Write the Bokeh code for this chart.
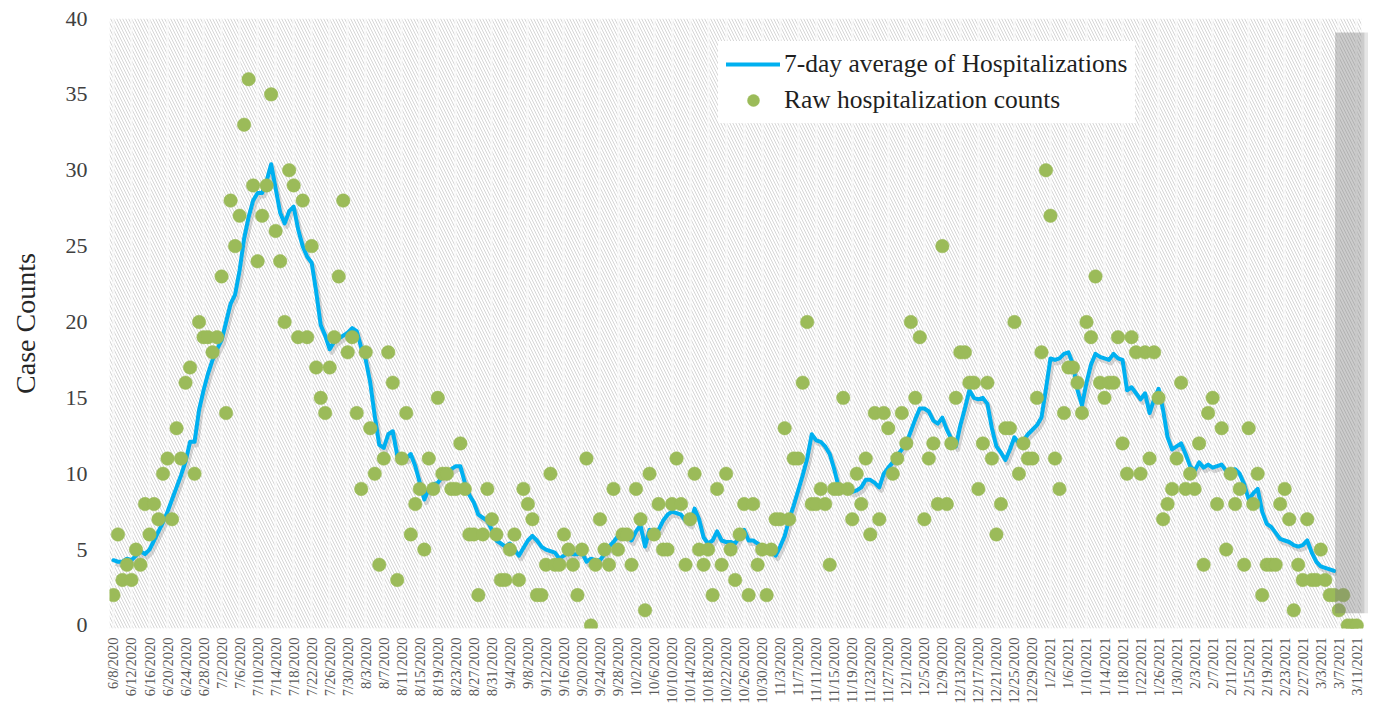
import math
import pandas as pd
from bokeh.plotting import figure
from bokeh.models import BoxAnnotation, FixedTicker, Legend, LegendItem, ColumnDataSource
from bokeh.embed import file_html
from bokeh.resources import INLINE

# ---------------- data ----------------
START_DATE = "2020-06-08"

raw_counts = [
    2, 6, 3, 4, 3, 5, 4, 8, 6, 8,
    7, 10, 11, 7, 13, 11, 16, 17, 10, 20,
    19, 19, 18, 19, 23, 14, 28, 25, 27, 33,
    36, 29, 24, 27, 29, 35, 26, 24, 20, 30,
    29, 19, 28, 19, 25, 17, 15, 14, 17, 19,
    23, 28, 18, 19, 14, 9, 18, 13, 10, 4,
    11, 18, 16, 3, 11, 14, 6, 8, 9, 5,
    11, 9, 15, 10, 10, 9, 9, 12, 9, 6,
    6, 2, 6, 9, 7, 6, 3, 3, 5, 6,
    3, 9, 8, 7, 2, 2, 4, 10, 4, 4,
    6, 5, 4, 2, 5, 11, 0, 4, 7, 5,
    4, 9, 5, 6, 6, 4, 9, 7, 1, 10,
    6, 8, 5, 5, 8, 11, 8, 4, 7, 10,
    5, 4, 5, 2, 9, 4, 10, 5, 3, 6,
    8, 2, 8, 4, 5, 2, 5, 7, 7, 13,
    7, 11, 11, 16, 20, 8, 8, 9, 8, 4,
    9, 9, 15, 9, 7, 10, 8, 11, 6, 14,
    7, 14, 13, 10, 11, 14, 12, 20, 15, 19,
    7, 11, 12, 8, 25, 8, 12, 15, 18, 18,
    16, 16, 9, 12, 16, 11, 6, 8, 13, 13,
    20, 10, 12, 11, 11, 15, 18, 30, 27, 11,
    9, 14, 17, 17, 16, 14, 20, 19, 23, 16,
    15, 16, 16, 19, 12, 10, 19, 18, 10, 18,
    11, 18, 15, 7, 8, 9, 11, 16, 9, 10,
    9, 12, 4, 14, 15, 8, 13, 5, 10, 8,
    9, 4, 13, 8, 10, 2, 4, 4, 4, 8,
    9, 7, 1, 4, 3, 7, 3, 3, 5, 3,
    2, 2, 1, 2, 0, 0, 0,
]

avg_7day = [
    4.3, 4.2, 4.2, 4.4, 4.3, 4.6, 4.9, 4.7, 5.0, 5.6,
    6.2, 6.8, 7.5, 8.3, 9.1, 9.9, 10.8, 12.1, 12.1, 14.2,
    15.5, 16.6, 17.5, 18.2, 18.8, 20.0, 21.2, 21.8, 23.4, 25.5,
    26.9, 28.0, 28.5, 28.5, 29.3, 30.4, 28.8, 27.2, 26.5, 27.3,
    27.6, 26.1, 25.0, 24.3, 23.9, 22.0, 19.8, 19.1, 18.2, 18.7,
    18.9, 19.1, 19.3, 19.6, 19.4, 18.3, 17.5, 16.0, 13.8, 11.9,
    11.7, 12.6, 12.8, 11.2, 11.0, 11.0, 11.3, 10.5, 9.4, 8.3,
    9.0, 9.3, 9.4, 9.8, 9.95, 10.3, 10.5, 10.5, 9.4, 8.6,
    8.1, 7.3, 7.1, 6.9, 6.3, 5.6, 5.4, 5.2, 5.4, 5.0,
    4.6, 5.1, 5.6, 5.9, 5.6, 5.2, 5.0, 4.9, 4.8, 4.4,
    4.6, 4.8, 4.7, 4.7, 4.8, 4.2, 4.4, 4.3, 4.3, 4.7,
    5.2, 5.5, 5.9, 6.2, 5.8, 5.6, 6.2, 6.6, 5.2, 6.3,
    6.2, 6.3, 6.9, 7.3, 7.5, 7.4, 7.3, 6.9, 6.7, 7.7,
    7.0, 5.8, 5.4, 5.6, 6.2, 5.6, 5.5, 5.5, 5.4, 5.9,
    6.3, 5.6, 5.6, 5.4, 5.2, 5.1, 4.9, 4.6, 5.2, 5.9,
    7.0, 7.9, 8.9, 9.9, 11.0, 12.6, 12.2, 12.1, 11.8, 11.3,
    10.3, 9.1, 9.0, 9.0, 8.8, 8.9, 9.1, 9.6, 9.6, 9.4,
    9.1, 10.0, 10.4, 10.75, 11.2, 11.6, 12.0, 12.8, 13.6, 14.3,
    14.3, 14.1, 13.5, 13.3, 13.7, 12.9, 12.3, 11.8, 13.2, 14.3,
    15.5, 15.0, 14.9, 15.0, 14.6, 13.0, 11.8, 11.4, 10.9, 11.6,
    12.4, 12.0, 12.2, 12.6, 12.9, 13.2, 13.7, 15.6, 17.6, 17.5,
    17.6, 17.9, 18.0, 17.2, 15.5, 14.5, 16.0, 17.2, 17.9, 17.7,
    17.6, 17.5, 17.9, 17.6, 17.5, 15.5, 15.7, 15.3, 14.9, 15.3,
    14.0, 14.9, 15.6, 14.2, 12.4, 11.6, 11.8, 12.0, 11.3, 10.5,
    10.2, 10.75, 10.4, 10.6, 10.4, 10.5, 10.6, 10.2, 10.2, 10.3,
    10.0, 9.3, 8.3, 8.7, 9.0, 7.5, 6.7, 6.5, 6.1, 5.7,
    5.6, 5.5, 5.3, 5.2, 5.3, 5.6, 4.8, 4.2, 3.9, 3.8,
    3.7, 3.6,
]

y_ticks = [0, 5, 10, 15, 20, 25, 30, 35, 40]
TICK_EVERY = 4

dates = pd.date_range(START_DATE, periods=len(raw_counts), freq="D")
day_idx = list(range(len(raw_counts)))
tick_idx = day_idx[::TICK_EVERY]
tick_labels = [f"{d.month}/{d.day}/{d.year}" for d in dates[::TICK_EVERY]]

# ---------------- styling ----------------
SERIF = "Liberation Serif"
BLUE = "#00b0f0"
GREEN = "#9bbb59"

last = len(raw_counts) - 1

p = figure(width=1368, height=707,
           x_range=(-0.88, 278.6), y_range=(-0.2, 40.0),
           output_backend="svg", toolbar_location=None,
           min_border_left=109, min_border_right=0,
           min_border_top=18, min_border_bottom=79)
p.outline_line_color = None
p.background_fill_color = "white"

# hatched plot area
hatch = BoxAnnotation(right=last + 1.0, level="image",
                      fill_color="white", fill_alpha=1.0,
                      line_alpha=0,
                      hatch_pattern="\\", hatch_color="#d6d6d6",
                      hatch_scale=6, hatch_weight=1.0)
p.add_layout(hatch)

# vertical light gridlines at each date tick
p.xgrid.ticker = FixedTicker(ticks=tick_idx)
p.xgrid.grid_line_color = "#f9f9f9"
p.xgrid.grid_line_width = 2
p.xgrid.level = "underlay"
p.ygrid.grid_line_color = None

src_line = ColumnDataSource(dict(x=day_idx[:len(avg_7day)], y=avg_7day))
src_shadow = ColumnDataSource(dict(x=[v + 0.45 for v in day_idx[:len(avg_7day)]],
                                   y=[v - 0.22 for v in avg_7day]))
src_pts = ColumnDataSource(dict(x=day_idx, y=raw_counts))

p.line("x", "y", source=src_shadow, line_color="#808080", line_alpha=0.3,
       line_width=4.5, line_join="round")
r_line = p.line("x", "y", source=src_line, line_color=BLUE, line_width=4,
                line_join="round", line_cap="round")
r_pts = p.scatter("x", "y", source=src_pts, marker="circle", size=13.5,
                  fill_color=GREEN, line_color=GREEN, line_width=0.5)

# gray band over the most recent (incomplete) days
band = BoxAnnotation(left=last - 4.8, right=last + 1.7, bottom=0.8, top=39.07,
                     fill_color="#7a7a7a", fill_alpha=0.38, line_alpha=0)
band2 = BoxAnnotation(left=last + 1.7, right=last + 2.6, bottom=0.8, top=39.07,
                      fill_color="#8a8a8a", fill_alpha=0.22, line_alpha=0)
p.add_layout(band)
p.add_layout(band2)

# axes
xa = p.xaxis[0]
xa.ticker = FixedTicker(ticks=tick_idx)
xa.major_label_overrides = {i: lab for i, lab in zip(tick_idx, tick_labels)}
xa.major_label_orientation = math.pi / 2
xa.major_label_text_font = SERIF
xa.major_label_text_font_size = "14.5px"
xa.major_label_text_color = "#595959"
xa.major_label_standoff = 9
xa.axis_label_standoff = 0
xa.axis_line_color = None
xa.major_tick_line_color = None
xa.minor_tick_line_color = None
xa.major_tick_out = 0
xa.major_tick_in = 0

ya = p.yaxis[0]
ya.ticker = FixedTicker(ticks=y_ticks)
ya.major_label_text_font = SERIF
ya.major_label_text_font_size = "22px"
ya.major_label_text_color = "#404040"
ya.major_label_standoff = 16
ya.axis_line_color = None
ya.major_tick_line_color = None
ya.minor_tick_line_color = None
ya.axis_label = "Case Counts"
ya.axis_label_text_font = SERIF
ya.axis_label_text_font_size = "28px"
ya.axis_label_text_font_style = "normal"
ya.axis_label_text_color = "#262626"
ya.axis_label_standoff = 22

legend = Legend(items=[
    LegendItem(label="7-day average of Hospitalizations", renderers=[r_line]),
    LegendItem(label="Raw hospitalization counts", renderers=[r_pts]),
], location=(609, 505))
legend.background_fill_color = "white"
legend.background_fill_alpha = 1.0
legend.border_line_alpha = 0
legend.padding = 8
legend.spacing = 6
legend.margin = 0
legend.glyph_height = 30
legend.glyph_width = 54
legend.label_standoff = 4
legend.label_text_font = SERIF
legend.label_text_font_size = "25.5px"
legend.label_text_color = "#1f1f1f"
p.add_layout(legend)

open("out.html", "w").write(file_html(p, INLINE))
